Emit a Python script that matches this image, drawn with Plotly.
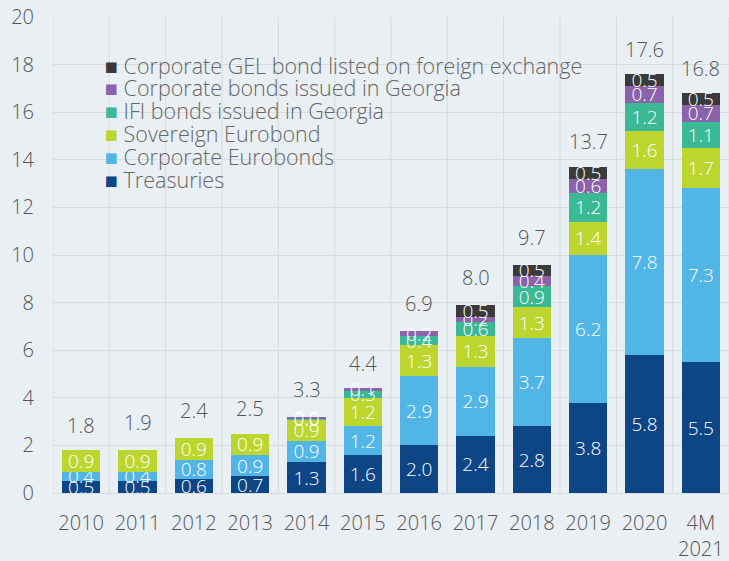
import plotly.graph_objects as go

years = ["2010", "2011", "2012", "2013", "2014", "2015", "2016", "2017", "2018", "2019", "2020", "4M<br>2021"]
treasuries = [0.5, 0.5, 0.6, 0.7, 1.3, 1.6, 2.0, 2.4, 2.8, 3.8, 5.8, 5.5]
corp_eurobonds = [0.4, 0.4, 0.8, 0.9, 0.9, 1.2, 2.9, 2.9, 3.7, 6.2, 7.8, 7.3]
sovereign = [0.9, 0.9, 0.9, 0.9, 0.9, 1.2, 1.3, 1.3, 1.3, 1.4, 1.6, 1.7]
ifi = [0, 0, 0, 0, 0.04, 0.3, 0.4, 0.6, 0.9, 1.2, 1.2, 1.1]
corp_georgia = [0, 0, 0, 0, 0.04, 0.1, 0.2, 0.2, 0.4, 0.6, 0.7, 0.7]
gel_foreign = [0, 0, 0, 0, 0, 0, 0, 0.5, 0.5, 0.5, 0.5, 0.5]
totals = [1.8, 1.9, 2.4, 2.5, 3.3, 4.4, 6.9, 8.0, 9.7, 13.7, 17.6, 16.8]

series = [
    ("Treasuries", treasuries, "#0D4585"),
    ("Corporate Eurobonds", corp_eurobonds, "#51B5E5"),
    ("Sovereign Eurobond", sovereign, "#BDD52F"),
    ("IFI bonds issued in Georgia", ifi, "#3BB994"),
    ("Corporate bonds issued in Georgia", corp_georgia, "#8C62AA"),
    ("Corporate GEL bond listed on foreign exchange", gel_foreign, "#3A3A3A"),
]

FONT = "Open Sans"
W = 300
xs = list(range(len(years)))
fig = go.Figure()
for name, vals, color in series:
    fig.add_trace(go.Bar(
        x=xs, y=vals, name=name,
        marker=dict(color=color, line=dict(width=0)),
        text=[f"{v:.1f}" if v > 0 else "" for v in vals],
        textposition="inside", insidetextanchor="middle",
        textfont=dict(color="white", size=19, family=FONT, weight=W),
        constraintext="none",
        width=0.68,
        showlegend=False,
    ))

for i, t in zip(xs, totals):
    fig.add_annotation(x=i, y=t, text=f"{t:.1f}", showarrow=False,
                       yshift=25, font=dict(size=20, color="#555555", family=FONT, weight=W))

# legend drawn as text rows (top row = last series)
leg_x = 0.074
leg_top = 0.899
leg_step = 0.048
for k, (name, vals, color) in enumerate(reversed(series)):
    fig.add_annotation(
        xref="paper", yref="paper", x=leg_x, y=leg_top - k * leg_step,
        xanchor="left", yanchor="middle", showarrow=False,
        text=f"<span style='color:{color}'>■</span> {name}",
        font=dict(size=21.5, color="#666666", family=FONT, weight=W),
    )

shapes = []
for i in range(len(years) + 1):
    shapes.append(dict(type="line", xref="x", yref="y", x0=i - 0.5, x1=i - 0.5, y0=0, y1=20,
                       line=dict(color="#D6DCDF", width=1), layer="below"))

fig.update_layout(
    width=729, height=561,
    barmode="stack",
    paper_bgcolor="#E9EFF2", plot_bgcolor="#E9EFF2",
    margin=dict(l=53, r=0, t=17, b=68),
    font=dict(family=FONT, size=20, color="#555555", weight=W),
    uniformtext=dict(mode="show", minsize=19),
    showlegend=False,
    shapes=shapes,
)
fig.update_xaxes(tickmode="array", tickvals=xs, ticktext=years, showgrid=False, ticks="",
                 tickfont=dict(size=20, color="#555555", family=FONT, weight=W),
                 showline=True, linecolor="#D6DCDF", range=[-0.5, 11.5], ticklabelstandoff=12)
fig.update_yaxes(range=[0, 20], dtick=2, showgrid=True, gridcolor="#D6DCDF", gridwidth=1,
                 zeroline=False, tickfont=dict(size=20, color="#555555", family=FONT, weight=W),
                 ticklabelstandoff=18)

fig.write_html("out.html", config={"displayModeBar": False},
               post_script="document.body.style.margin='0';document.body.style.overflow='hidden';")
